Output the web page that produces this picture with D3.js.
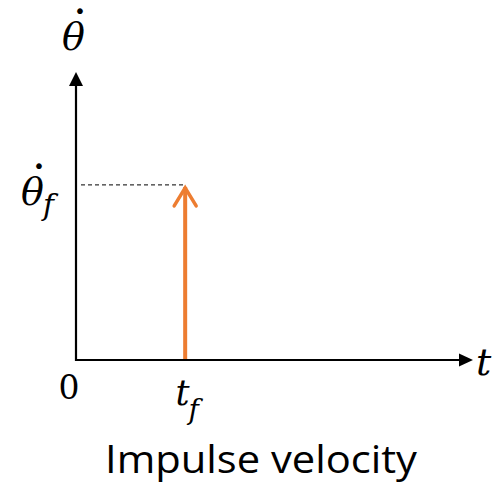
<!DOCTYPE html>
<html><head><meta charset="utf-8">
<script src="https://cdn.jsdelivr.net/npm/d3@7"></script>
<style>body{margin:0;background:#fff}svg{display:block}</style>
</head><body>
<script>
// Data
const timeDomain = [0, 10];
const velDomain = [0, 1];
const impulseTimes = [2.75];
const impulseValues = [0.608];
const xTickValues = [0, 2.75];
const xTickLabels = ["0", "t"];
const xTickSubs = ["", "f"];
const yLabelMain = "θ";
const dotMark = "˙";
const xLabelMain = "t";
const title = "Impulse velocity";

const W = 492, H = 484;
const svg = d3.select("body").append("svg").attr("width", W).attr("height", H);
const x = d3.scaleLinear().domain(timeDomain).range([76, 473]);
const y = d3.scaleLinear().domain(velDomain).range([360, 72]);

const ink = "#000";
const orange = "#ED7D31";
const serif = "'DejaVu Serif', 'Liberation Serif', serif";

// axes lines
svg.append("line").attr("x1", x(0)).attr("x2", x(10) - 12).attr("y1", y(0)).attr("y2", y(0))
  .attr("stroke", ink).attr("stroke-width", 2.2);
svg.append("line").attr("x1", x(0)).attr("x2", x(0)).attr("y1", y(0) + 1.1).attr("y2", y(1) + 12)
  .attr("stroke", ink).attr("stroke-width", 2.2);
// arrowheads
svg.append("path").attr("d", `M${x(10)},${y(0)} L${x(10)-14},${y(0)-6.5} L${x(10)-14},${y(0)+6.5}Z`).attr("fill", ink);
svg.append("path").attr("d", `M${x(0)},${y(1)} L${x(0)-7},${y(1)+14} L${x(0)+7},${y(1)+14}Z`).attr("fill", ink);

impulseTimes.forEach((t, i) => {
  const yv = y(impulseValues[i]);
  svg.append("line").attr("x1", x(0) + 5).attr("x2", x(t)).attr("y1", yv).attr("y2", yv)
    .attr("stroke", ink).attr("stroke-width", 1).attr("stroke-dasharray", "4,3");
  svg.append("line").attr("x1", x(t)).attr("x2", x(t)).attr("y1", y(0) - 1).attr("y2", yv + 2)
    .attr("stroke", orange).attr("stroke-width", 4);
  svg.append("path").attr("d", `M${x(t)-11},${yv+21} L${x(t)},${yv+3} L${x(t)+11},${yv+21}`)
    .attr("fill", "none").attr("stroke", orange).attr("stroke-width", 3.5).attr("stroke-linecap", "round");
});

// tick labels
xTickValues.forEach((v, i) => {
  const g = svg.append("text").attr("x", x(v) + (i === 0 ? -7 : 2)).attr("y", i === 0 ? 399 : 405)
    .attr("text-anchor", "middle").attr("font-family", serif).attr("font-size", i === 0 ? 33 : 35)
    .attr("font-style", i === 0 ? "normal" : "italic").attr("fill", ink);
  g.append("tspan").text(xTickLabels[i]);
  if (xTickSubs[i]) g.append("tspan").attr("dy", 14).attr("dx", -1).attr("font-size", 28).text(xTickSubs[i]);
});

// y labels: theta with a dot above, in one text element
function dotted(left, base, size, sub) {
  const t = svg.append("text").attr("x", left).attr("y", base).attr("text-anchor", "start")
    .attr("font-family", serif).attr("font-style", "italic").attr("font-size", size).attr("fill", ink);
  const th = t.append("tspan").text(yLabelMain);
  const thW = th.node().getComputedTextLength();
  const dt = t.append("tspan").attr("font-style", "normal").attr("font-weight", "bold")
    .attr("font-size", size * 1.05).text(dotMark);
  const dW = dt.node().getComputedTextLength();
  const dotCenter = size * 0.47;
  dt.attr("dx", dotCenter - dW / 2 - thW).attr("dy", -11);
  if (sub) {
    const back = thW - (dotCenter + dW / 2) - 1;
    t.append("tspan").attr("dx", back).attr("dy", 21).attr("font-size", size * 0.78).text(sub);
  }
}
dotted(62, 50, 38, null);
dotted(21, 205, 38, "f");

// x axis label
svg.append("text").attr("x", 476).attr("y", 375).attr("font-family", serif).attr("font-style", "italic")
  .attr("font-size", 38).attr("fill", ink).text(xLabelMain);

// title
svg.append("text").attr("x", 105).attr("y", 473).attr("font-family", "'Open Sans', sans-serif")
  .attr("font-size", 39).attr("fill", ink).attr("textLength", 312).attr("lengthAdjust", "spacingAndGlyphs").text(title);
</script>
</body></html>
